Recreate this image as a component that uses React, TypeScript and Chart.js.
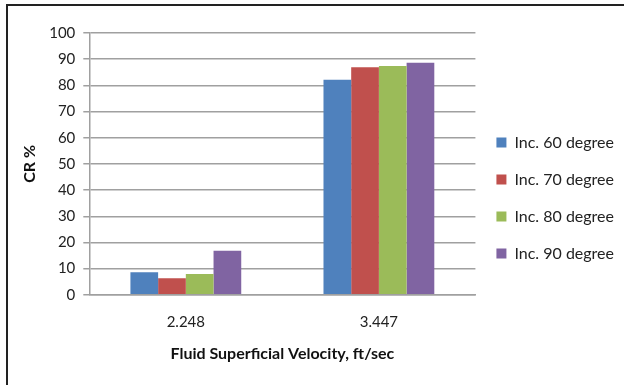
import React, { useEffect, useRef } from "react";
import { Chart, registerables } from "chart.js";

Chart.register(...registerables);

const categories = ["2.248", "3.447"];
const seriesNames = ["Inc. 60 degree", "Inc. 70 degree", "Inc. 80 degree", "Inc. 90 degree"];
const inc60 = [8.6, 82.1];
const inc70 = [6.3, 86.9];
const inc80 = [7.9, 87.4];
const inc90 = [16.8, 88.6];
const colors = ["#4F81BD", "#C0504D", "#9BBB59", "#8064A2"];
const yTitle = "CR %";
const xTitle = "Fluid Superficial Velocity, ft/sec";

const FONT = "Lato, 'Open Sans', sans-serif";

export default function App() {
  const ref = useRef<HTMLCanvasElement>(null);
  useEffect(() => {
    if (!ref.current) return;
    const values = [inc60, inc70, inc80, inc90];
    const chart = new Chart(ref.current, {
      type: "bar",
      data: {
        labels: categories,
        datasets: seriesNames.map((n, i) => ({
          label: n,
          data: values[i],
          backgroundColor: colors[i],
          borderWidth: 0,
          categoryPercentage: 0.574,
          barPercentage: 1.0,
        })),
      },
      options: {
        responsive: false,
        animation: false,
        layout: { padding: { top: 33, bottom: 22, left: 20, right: 0 } },
        plugins: {
          legend: {
            position: "right",
            labels: {
              boxWidth: 10,
              boxHeight: 10,
              padding: 21,
              color: "#222",
              font: { family: FONT, size: 16 },
            },
          },
          tooltip: { enabled: false },
        },
        scales: {
          x: {
            grid: { display: false, drawTicks: false },
            border: { color: "#a0a0a0", width: 1.5 },
            ticks: { color: "#222", font: { family: FONT, size: 15 }, padding: 18 },
            title: {
              display: true,
              text: xTitle,
              color: "#111",
              font: { family: FONT, size: 16, weight: "bold" },
              padding: { top: -5, bottom: 0 },
            },
          },
          y: {
            min: 0,
            max: 100,
            ticks: { stepSize: 10, color: "#222", font: { family: FONT, size: 15 }, padding: 8 },
            grid: { color: "#a0a0a0", lineWidth: 1.5, tickLength: 6 },
            border: { color: "#a0a0a0", width: 1.5 },
            title: {
              display: true,
              text: yTitle,
              color: "#111",
              font: { family: FONT, size: 16, weight: "bold" },
              padding: { top: 0, bottom: 2 },
            },
          },
        },
      },
    });
    return () => chart.destroy();
  }, []);
  return (
    <div style={{ position: "absolute", left: 0, top: 0, width: 624, height: 385, background: "#fff" }}>
      <canvas ref={ref} width={624} height={385} style={{ position: "absolute", left: 0, top: 0 }} />
      <div
        style={{
          position: "absolute",
          left: 6,
          top: 4,
          right: 0,
          bottom: 0,
          borderTop: "2px solid #222",
          borderLeft: "2px solid #222",
          pointerEvents: "none",
        }}
      />
    </div>
  );
}
